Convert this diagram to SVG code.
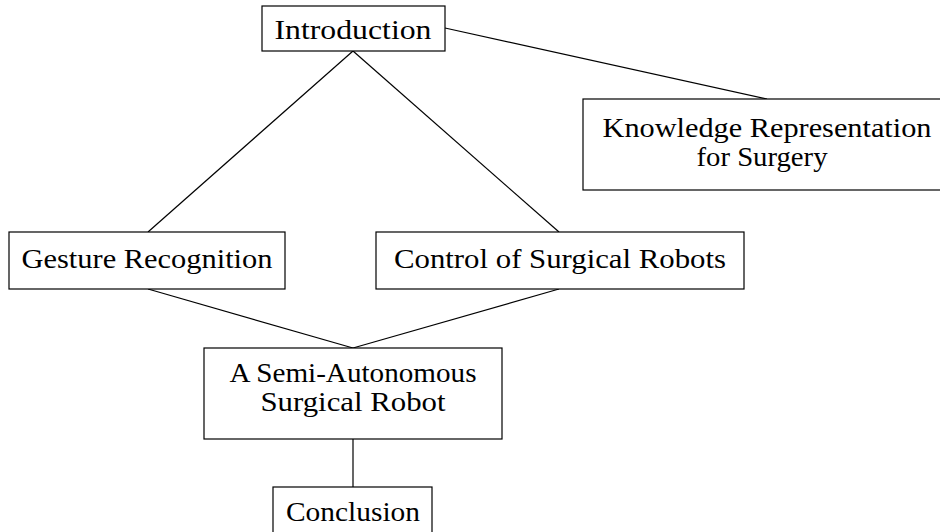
<svg xmlns="http://www.w3.org/2000/svg" width="940" height="532" viewBox="0 0 940 532">
<style>
rect{fill:#fff;stroke:#000;stroke-width:1.2}
line{stroke:#000;stroke-width:1.2}
text{font-family:"Liberation Serif","DejaVu Serif",serif;font-size:28px;fill:#000;text-anchor:middle}
</style>
<rect x="0" y="0" width="940" height="532" style="stroke:none"/>
<g id="connectors">
<line x1="353" y1="51" x2="148" y2="232"/>
<line x1="353" y1="51" x2="559" y2="232"/>
<line x1="445" y1="28" x2="767" y2="99"/>
<line x1="148" y1="289" x2="353" y2="348"/>
<line x1="559" y1="289" x2="353" y2="348"/>
<line x1="353" y1="439" x2="353" y2="487"/>
</g>
<g id="introduction">
<rect x="262" y="6" width="183" height="45"/>
<text x="353" y="39" textLength="157" lengthAdjust="spacingAndGlyphs">Introduction</text>
</g>
<g id="knowledge">
<rect x="583" y="99" width="362" height="91"/>
<text x="767" y="137" textLength="329" lengthAdjust="spacingAndGlyphs">Knowledge Representation</text>
<text x="762" y="166" textLength="131" lengthAdjust="spacingAndGlyphs">for Surgery</text>
</g>
<g id="gesture">
<rect x="9" y="232" width="276" height="57"/>
<text x="147" y="268" textLength="251" lengthAdjust="spacingAndGlyphs">Gesture Recognition</text>
</g>
<g id="control">
<rect x="376" y="232" width="368" height="57"/>
<text x="560" y="268" textLength="332" lengthAdjust="spacingAndGlyphs">Control of Surgical Robots</text>
</g>
<g id="semi">
<rect x="204" y="348" width="298" height="91"/>
<text x="353" y="382" textLength="247" lengthAdjust="spacingAndGlyphs">A Semi-Autonomous</text>
<text x="353" y="411" textLength="185" lengthAdjust="spacingAndGlyphs">Surgical Robot</text>
</g>
<g id="conclusion">
<rect x="273" y="487" width="159" height="60"/>
<text x="353" y="521" textLength="134" lengthAdjust="spacingAndGlyphs">Conclusion</text>
</g>
</svg>
